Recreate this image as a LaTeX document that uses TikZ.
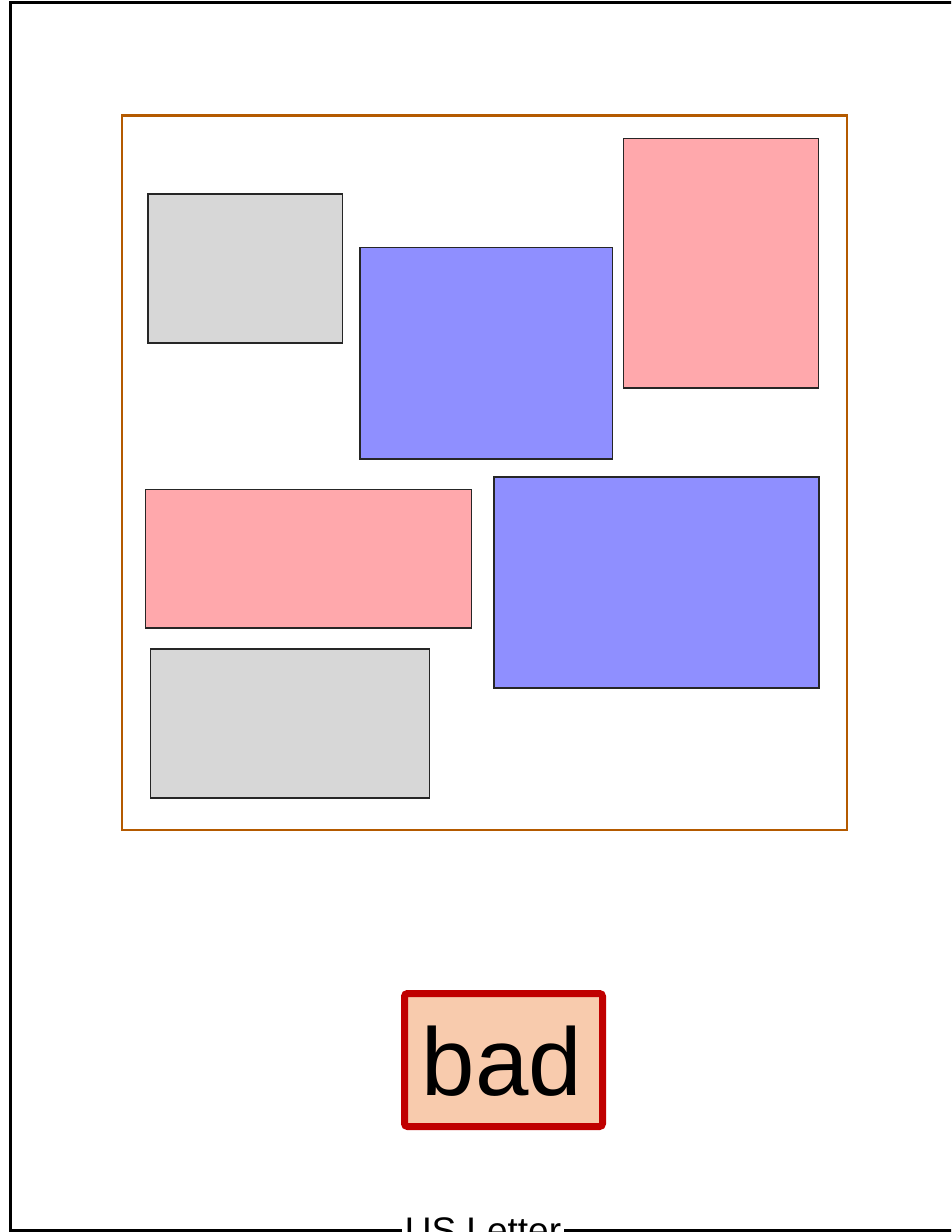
\documentclass[tikz,border=0pt]{standalone}
\usepackage{fontspec}
\setmainfont{Liberation Sans}
\definecolor{grayfill}{HTML}{D7D7D7}
\definecolor{bluefill}{HTML}{8F8FFF}
\definecolor{pinkfill}{HTML}{FFA8AC}
\definecolor{framecol}{HTML}{B45A00}
\definecolor{badfill}{HTML}{F8CBAD}
\definecolor{badline}{HTML}{C00000}
\begin{document}
\begin{tikzpicture}[x=1pt,y=-1pt,
  blk/.style={draw=black!85,line width=1.4pt},
  gbox/.style={blk,fill=grayfill},
  bbox/.style={blk,fill=bluefill},
  pbox/.style={blk,fill=pinkfill}]
\useasboundingbox (0,0) rectangle (951,1232);
\clip (0,0) rectangle (951,1232);
% outer page frame
\draw[line width=3pt] (10,1230) -- (10,2.5) -- (1000,2.5) -- (1000,1230) -- cycle;
\node[fill=white,inner xsep=3pt,inner ysep=0pt,anchor=base,font=\fontsize{37}{40}\selectfont] (lbl) at (483,1243.5) {US Letter};
% orange region
\draw[framecol,line width=2.2pt] (122,115.5) rectangle (847,830);
% boxes
\draw[gbox] (148,194) rectangle (342.5,343);
\draw[bbox] (360,247.5) rectangle (612.5,459);
\draw[pbox] (623.5,138.5) rectangle (818.5,388);
\draw[pbox] (145.5,489.5) rectangle (471.5,628);
\draw[bbox] (494,477) rectangle (819,688);
\draw[gbox] (150.5,649) rectangle (429.5,798);
% bad box
\draw[badline,fill=badfill,line width=7pt,rounded corners=3pt] (404.5,993.5) rectangle (602.5,1126.5);
\node[anchor=base,inner sep=0pt,font=\fontsize{96}{100}\selectfont] (bad) at (502,1095) {bad};
\end{tikzpicture}
\end{document}
